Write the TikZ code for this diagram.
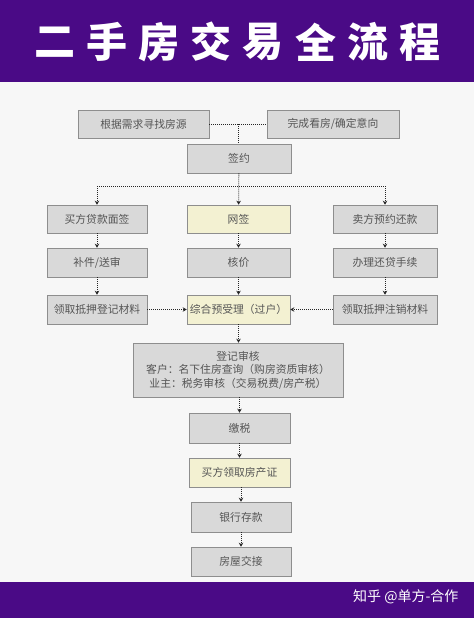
\documentclass[tikz,border=0pt]{standalone}
\usepackage{fontspec}
\usetikzlibrary{arrows.meta}
\newfontfamily\cjk{Noto Sans CJK SC}
\definecolor{bandpurple}{HTML}{4A0A86}
\definecolor{boxgray}{HTML}{D9D9D9}
\definecolor{boxline}{HTML}{8E8E8E}
\definecolor{boxyellow}{HTML}{F3F1D2}
\definecolor{txtgray}{HTML}{555555}
\tikzset{
  stepbox/.style={draw=boxline, fill=boxgray, line width=0.6pt, text=txtgray,
    font=\cjk\fontsize{10.8}{13.5}\selectfont, minimum width=101pt, minimum height=29pt,
    inner sep=2pt, align=center},
  yellowbox/.style={stepbox, fill=boxyellow},
  line/.style={black!85, line width=0.8pt, dash pattern=on 1pt off 1pt},
  link/.style={line, -{Stealth[length=4pt,width=4.5pt]}}
}
\begin{document}
\begin{tikzpicture}[x=1pt,y=-1pt]
  \useasboundingbox (0,0) rectangle (474,618);
  \fill[gray!6](0,82) rectangle (474,582);
  \fill[bandpurple](0,0) rectangle (474,82);
  \fill[bandpurple](0,582) rectangle (474,618);
  % title
  \foreach \c [count=\i from 0] in {二,手,房,交,易,全,流,程}
    \node[text=white, font=\cjk\bfseries\fontsize{41}{44}\selectfont] (t\i) at (55+\i*52.1,42) {\c};
  \node[anchor=east, text=white, font=\cjk\fontsize{14}{16}\selectfont] (zh) at (462,597) {知乎 @单方-合作};
  % first steps
  \node[stepbox, minimum width=131pt, minimum height=28pt] (find) at (143.5,124) {根据需求寻找房源};
  \node[stepbox, minimum width=132pt, minimum height=28pt] (see) at (333,124) {完成看房/确定意向};
  \node[stepbox, minimum width=104pt] (sign) at (239,158.5) {签约};
  % three columns
  \node[stepbox, minimum width=100pt, minimum height=28pt] (loan) at (97,219) {买方贷款面签};
  \node[yellowbox, minimum width=103pt, minimum height=28pt] (web) at (238.5,219) {网签};
  \node[stepbox, minimum width=104pt, minimum height=28pt] (repay) at (385,219) {卖方预约还款};
  \node[stepbox, minimum width=100pt] (docs) at (97,262.5) {补件/送审};
  \node[stepbox, minimum width=103pt] (price) at (238.5,262.5) {核价};
  \node[stepbox, minimum width=104pt] (paid) at (385,262.5) {办理还贷手续};
  \node[stepbox, minimum width=100pt] (mort) at (97,309.5) {领取抵押登记材料};
  \node[yellowbox, minimum width=103pt] (pre) at (238.5,309.5) {综合预受理（过户）};
  \node[stepbox, minimum width=104pt] (cancel) at (385,309.5) {领取抵押注销材料};
  % last steps
  \node[stepbox, minimum width=210pt, minimum height=54pt] (check) at (238,370)
    {登记审核\\客户：名下住房查询（购房资质审核）\\业主：税务审核（交易税费/房产税）};
  \node[stepbox, minimum height=30pt] (tax) at (239.5,428) {缴税};
  \node[yellowbox] (cert) at (239.5,472.5) {买方领取房产证};
  \node[stepbox, minimum width=100pt, minimum height=30pt] (bank) at (241,517) {银行存款};
  \node[stepbox, minimum width=100pt] (hand) at (241,561.5) {房屋交接};
  % connectors
  \draw[line](find)--(see) coordinate[midway](m);
  \draw[line](m)--(m |- sign.north);
  \coordinate (jl) at (97,186);
  \coordinate (jr) at (385,186);
  \draw[line](jl)--(jr);
  \draw[link](sign)--(web);
  \draw[link](jl)--(loan);
  \draw[link](jr)--(repay);
  \draw[link](loan)--(docs);
  \draw[link](docs)--(mort);
  \draw[link](web)--(price);
  \draw[link](price)--(pre);
  \draw[link](repay)--(paid);
  \draw[link](paid)--(cancel);
  \draw[link](mort)--(pre);
  \draw[link](cancel)--(pre);
  \draw[link](pre)--(pre |- check.north);
  \draw[link](tax |- check.south)--(tax);
  \draw[link](tax)--(cert);
  \draw[link](cert.south -| bank)--(bank);
  \draw[link](bank)--(hand);
\end{tikzpicture}
\end{document}
